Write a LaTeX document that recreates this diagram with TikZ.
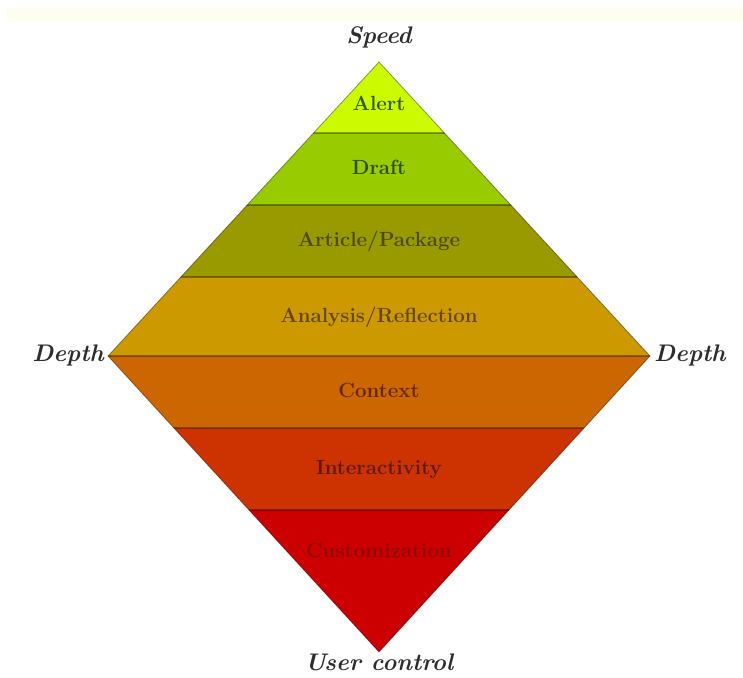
\documentclass[tikz,border=0pt]{standalone}
\usepackage{fontspec}
\usepackage{tikz}
\usetikzlibrary{positioning}

\begin{document}
\begin{tikzpicture}[x={(1pt,0pt)},y={(0pt,-1pt)},
  band/.style={font=\fontsize{20.5}{24}\selectfont\bfseries, inner sep=0pt},
  axis/.style={font=\fontsize{24}{28}\selectfont\bfseries\itshape, text={rgb,255:red,45;green,45;blue,45}, inner sep=0pt},
  rule/.style={draw=black, draw opacity=0.35, line width=1.6pt}]
\useasboundingbox (0,0) rectangle (743,677);
\fill[fill={rgb,255:red,253;green,253;blue,240}] (7,8) rectangle (743,22);
% diamond corners
\coordinate (top) at (379,62);
\coordinate (left) at (108,356);
\coordinate (right) at (650,356);
\coordinate (bottom) at (379,652);
\begin{scope}
\clip (top) -- (left) -- (bottom) -- (right) -- cycle;
\fill[fill={rgb,255:red,204;green,250;blue,0}] (100,55) rectangle (660,133);
\fill[fill={rgb,255:red,153;green,204;blue,0}] (100,133) rectangle (660,205);
\fill[fill={rgb,255:red,153;green,153;blue,0}] (100,205) rectangle (660,277);
\fill[fill={rgb,255:red,204;green,153;blue,0}] (100,277) rectangle (660,356);
\fill[fill={rgb,255:red,204;green,102;blue,0}] (100,356) rectangle (660,428);
\fill[fill={rgb,255:red,204;green,51;blue,0}] (100,428) rectangle (660,510);
\fill[fill={rgb,255:red,204;green,0;blue,0}] (100,510) rectangle (660,660);
\foreach \y in {133,205,277,356,428,510}
  \draw[rule] (100,\y) -- (660,\y);
\end{scope}
\draw[draw=black, draw opacity=0.4, line width=0.8pt] (top) -- (left) -- (bottom) -- (right) -- cycle;
% band labels
\node[band, text={rgb,255:red,50;green,90;blue,0}] (alert) at (379,103) {Alert};
\node[band, text={rgb,255:red,40;green,80;blue,0}] (draft) at (379,167) {Draft};
\node[band, text={rgb,255:red,75;green,75;blue,0}] (article) at (379,241) {Article/Package};
\node[band, text={rgb,255:red,100;green,70;blue,0}] (analysis) at (379,317) {Analysis/Reflection};
\node[band, text={rgb,255:red,100;green,40;blue,0}] (context) at (379,390) {Context};
\node[band, text={rgb,255:red,95;green,25;blue,10}] (interact) at (379,470) {Interactivity};
\node[band, text={rgb,255:red,140;green,10;blue,10}] (custom) at (379,550) {Customization};
% axis labels
\node[axis] (speed) at (379,37) {Speed};
\node[axis, anchor=east] (depthl) at (104,355) {Depth};
\node[axis, anchor=west] (depthr) at (654,355) {Depth};
\node[axis] (user) at (379,662) {User control};
\end{tikzpicture}
\end{document}
